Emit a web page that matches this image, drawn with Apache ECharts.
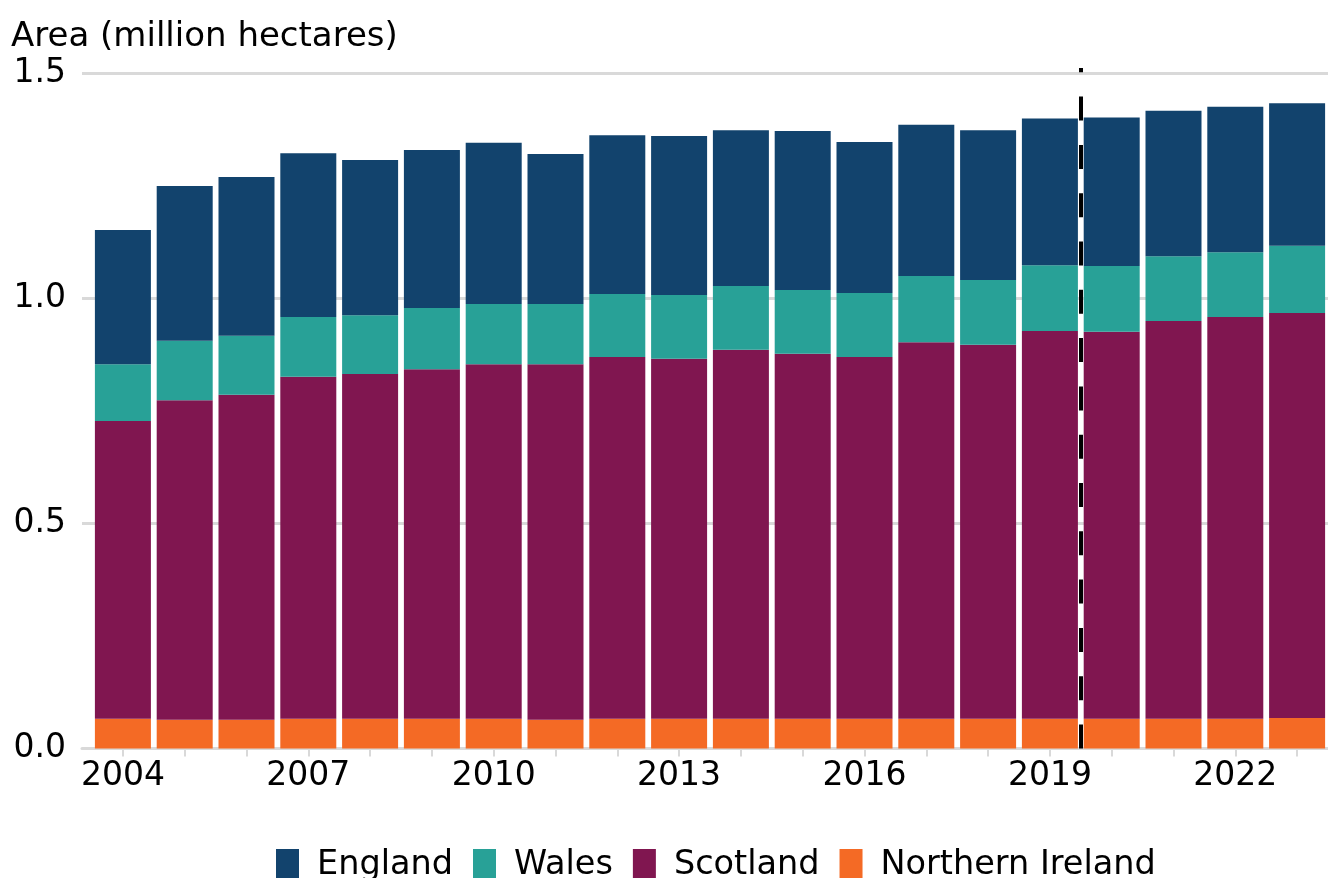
<!DOCTYPE html>
<html>
<head>
<meta charset="utf-8">
<title>Area (million hectares)</title>
<script src="https://cdn.jsdelivr.net/npm/echarts@6/dist/echarts.min.js"></script>
<style>
  html, body { margin: 0; padding: 0; background: #fff; }
  #chart { width: 1328px; height: 878px; }
</style>
</head>
<body>
<div id="chart"></div>
<script>
// years on the x axis
const years = ["2004", "2005", "2006", "2007", "2008", "2009", "2010", "2011", "2012", "2013",
  "2014", "2015", "2016", "2017", "2018", "2019", "2020", "2021", "2022", "2023"];

// area in million hectares, by country
const northernIreland = [0.066, 0.064, 0.064, 0.066, 0.066, 0.066, 0.066, 0.064, 0.066, 0.066,
  0.066, 0.066, 0.066, 0.066, 0.066, 0.066, 0.066, 0.066, 0.066, 0.068];
const scotland = [0.662, 0.710, 0.722, 0.760, 0.766, 0.777, 0.788, 0.790, 0.804, 0.800,
  0.820, 0.811, 0.804, 0.837, 0.831, 0.862, 0.860, 0.884, 0.893, 0.900];
const wales = [0.126, 0.132, 0.131, 0.133, 0.131, 0.136, 0.134, 0.134, 0.140, 0.142,
  0.142, 0.142, 0.142, 0.147, 0.144, 0.146, 0.146, 0.144, 0.144, 0.149];
const england = [0.298, 0.344, 0.353, 0.364, 0.345, 0.351, 0.358, 0.333, 0.353, 0.353,
  0.346, 0.353, 0.336, 0.336, 0.333, 0.326, 0.330, 0.323, 0.323, 0.317];

// y axis ticks
const yTicks = [0, 0.5, 1.0, 1.5];

// dashed break between 2019 and 2020 (position between categories)
const breakAt = 15.5;

const FONT = "DejaVu Sans";
const GRID_COLOR = "#d9d9d9";

const myChart = echarts.init(document.getElementById("chart"), null, { renderer: "canvas" });

function barSeries(name, data, color) {
  return {
    name: name,
    type: "bar",
    stack: "area",
    xAxisIndex: 1,
    yAxisIndex: 1,
    barWidth: 56,
    itemStyle: { color: color },
    emphasis: { disabled: true },
    data: data,
  };
}

const option = {
  animation: false,
  textStyle: { fontFamily: FONT },
  title: {
    text: "Area (million hectares)",
    left: 11,
    top: 20,
    padding: 0,
    textStyle: { fontFamily: FONT, fontSize: 34, fontWeight: "normal", color: "#000" },
  },
  legend: {
    data: ["England", "Wales", "Scotland", "Northern Ireland"],
    left: 276,
    top: 848,
    padding: 0,
    icon: "rect",
    itemWidth: 23,
    itemHeight: 32,
    itemGap: 20,
    selectedMode: false,
    textStyle: { fontFamily: FONT, fontSize: 33.5, color: "#000", padding: [0, 0, 0, 13] },
  },
  grid: [
    // grid 0: gridlines, y labels and the x axis line
    { left: 82, right: 0, top: 73.5, bottom: 129.5 },
    // grid 1: the bars
    { left: 92, right: 0, top: 73.5, bottom: 129.5 },
    // grid 2: the dashed break line, runs a bit above the top gridline
    { left: 92, right: 0, top: 68, bottom: 129.5 },
  ],
  xAxis: [
    {
      gridIndex: 0,
      type: "value",
      min: 0,
      max: 1,
      axisLine: { show: true, onZero: false, lineStyle: { color: GRID_COLOR, width: 3 } },
      axisTick: { show: false },
      axisLabel: { show: false },
      splitLine: { show: false },
    },
    {
      gridIndex: 1,
      type: "category",
      data: years,
      axisLine: { show: false },
      axisTick: {
        show: true,
        alignWithLabel: true,
        interval: 0,
        length: 8,
        lineStyle: { color: GRID_COLOR, width: 2 },
      },
      axisLabel: {
        interval: 2,
        margin: 11,
        fontFamily: FONT,
        fontSize: 33,
        color: "#000",
      },
      splitLine: { show: false },
    },
    {
      gridIndex: 2,
      type: "value",
      min: -0.5,
      max: years.length - 0.5,
      show: false,
    },
  ],
  yAxis: [
    {
      gridIndex: 0,
      type: "value",
      min: yTicks[0],
      max: yTicks[yTicks.length - 1],
      interval: 0.5,
      axisLine: { show: false },
      axisTick: { show: false },
      axisLabel: {
        margin: 16,
        fontFamily: FONT,
        fontSize: 33,
        color: "#000",
        formatter: (v) => v.toFixed(1),
      },
      splitLine: { show: true, lineStyle: { color: GRID_COLOR, width: 3 } },
    },
    {
      gridIndex: 1,
      type: "value",
      min: yTicks[0],
      max: yTicks[yTicks.length - 1],
      show: false,
    },
    {
      gridIndex: 2,
      type: "value",
      min: 0,
      max: 1,
      show: false,
    },
  ],
  series: [
    barSeries("Northern Ireland", northernIreland, "#F46A25"),
    barSeries("Scotland", scotland, "#801650"),
    barSeries("Wales", wales, "#28A197"),
    barSeries("England", england, "#12436D"),
    {
      name: "break",
      type: "line",
      xAxisIndex: 2,
      yAxisIndex: 2,
      data: [],
      silent: true,
      markLine: {
        silent: true,
        symbol: ["none", "none"],
        label: { show: false },
        lineStyle: { color: "#000", width: 4, type: [24, 24.3] },
        data: [[{ coord: [breakAt, 0] }, { coord: [breakAt, 1] }]],
      },
    },
  ],
};

myChart.setOption(option);
window.addEventListener("resize", () => myChart.resize());
</script>
</body>
</html>
